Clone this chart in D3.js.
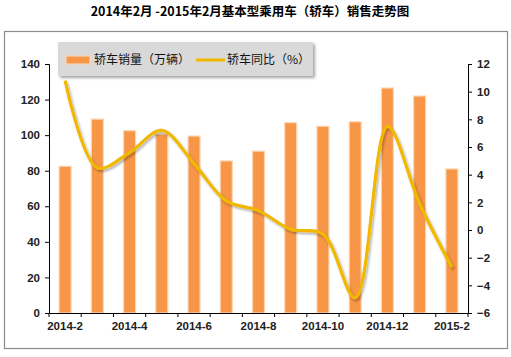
<!DOCTYPE html>
<html><head><meta charset="utf-8">
<script src="https://cdn.jsdelivr.net/npm/d3@7"></script>
<style>body{margin:0;background:#fff}</style>
</head><body>
<svg id="c" width="511" height="357"></svg>
<script>
const categories = ["2014-2","2014-3","2014-4","2014-5","2014-6","2014-7","2014-8","2014-9","2014-10","2014-11","2014-12","2015-1","2015-2"];
const tickLabels = ["2014-2","2014-4","2014-6","2014-8","2014-10","2014-12","2015-2"];
const sales = [82.5, 109, 102.5, 100.5, 99.5, 85.5, 91, 107, 105, 107.5, 126.5, 122, 81];
const yoy = [10.8, 4.5, 5.6, 7.2, 4.8, 2.1, 1.4, 0.05, -0.3, -4.9, 7.5, 1.9, -2.7];
const leftTicks = [0,20,40,60,80,100,120,140];
const rightTicks = [-6,-4,-2,0,2,4,6,8,10,12];
const title = "2014年2月 -2015年2月基本型乘用车（轿车）销售走势图";
const legendLabels = ["轿车销量（万辆）","轿车同比（%）"];

const svg = d3.select("#c");
const font = "'Liberation Sans', Arial, 'Noto Sans CJK SC', sans-serif";
const defs = svg.append("defs");
const f1 = defs.append("filter").attr("id","sh").attr("x","-10%").attr("y","-10%").attr("width","130%").attr("height","140%");
f1.append("feDropShadow").attr("dx",2).attr("dy",2).attr("stdDeviation",1.5).attr("flood-color","#000").attr("flood-opacity",0.35);
const f2 = defs.append("filter").attr("id","lsh").attr("x","-10%").attr("y","-10%").attr("width","120%").attr("height","130%");
f2.append("feDropShadow").attr("dx",1.5).attr("dy",2).attr("stdDeviation",1.2).attr("flood-color","#000").attr("flood-opacity",0.3);

svg.append("text").attr("x",250).attr("y",16).attr("text-anchor","middle")
  .attr("font-family","'Noto Sans CJK SC', sans-serif").attr("font-weight","bold").attr("font-size",12.5)
  .attr("fill","#000").text(title);

svg.append("rect").attr("x",4.5).attr("y",31.5).attr("width",503).attr("height",317)
  .attr("fill","#fff").attr("stroke","#8c8c8c").attr("stroke-width",1.2);

const L = 49, R = 468, T = 64, B = 313;
const x = d3.scaleBand().domain(categories).range([L,R]);
const y = d3.scaleLinear().domain([0,140]).range([B,T]);
const y2 = d3.scaleLinear().domain([-6,12]).range([B,T]);

// bars
svg.append("g").selectAll("rect").data(sales).join("rect")
  .attr("x",(d,i)=>x(categories[i])+x.bandwidth()/2-6)
  .attr("width",12)
  .attr("y",d=>y(d)).attr("height",d=>B-y(d))
  .attr("fill","#F79646").attr("stroke","#FCD5B4").attr("stroke-width",1.2);

// axes
const ax = svg.append("g").attr("transform",`translate(${L},0)`)
  .call(d3.axisLeft(y).tickValues(leftTicks).tickSize(4).tickPadding(5));
const ax2 = svg.append("g").attr("transform",`translate(${R},0)`)
  .call(d3.axisRight(y2).tickValues(rightTicks).tickSize(4).tickPadding(5));
const xAxis = svg.append("g").attr("transform",`translate(0,${B})`)
  .call(d3.axisBottom(x).tickValues(tickLabels).tickSize(0).tickPadding(9));
// tick marks between categories
svg.append("g").selectAll("line").data(d3.range(categories.length+1)).join("line")
  .attr("x1",i=>L+i*x.step()).attr("x2",i=>L+i*x.step())
  .attr("y1",B).attr("y2",B+4).attr("stroke","#000");
[ax,ax2,xAxis].forEach(g=>{
  g.selectAll("path.domain").attr("stroke","#000");
  g.selectAll("line").attr("stroke","#000");
  g.selectAll("text").attr("font-family",font).attr("font-size",11.5).attr("font-weight","bold").attr("fill","#222");
});

// line
const line = d3.line().x((d,i)=>x(categories[i])+x.bandwidth()/2).y(d=>y2(d)).curve(d3.curveCatmullRom.alpha(0.5));
svg.append("path").datum(yoy).attr("d",line).attr("fill","none")
  .attr("stroke","#F2B800").attr("stroke-width",3.2).attr("filter","url(#lsh)");

// legend
const lg = svg.append("g");
lg.append("rect").attr("x",58).attr("y",42).attr("width",255).attr("height",34)
  .attr("fill","#D9D9D9").attr("filter","url(#sh)");
lg.append("rect").attr("x",66).attr("y",56).attr("width",24).attr("height",8)
  .attr("fill","#F79646").attr("stroke","#FCD5B4").attr("stroke-width",1.2);
lg.append("text").attr("x",94).attr("y",64).attr("font-family","'Noto Sans CJK SC', sans-serif")
  .attr("font-size",12).attr("fill","#111").text(legendLabels[0]);
lg.append("line").attr("x1",196).attr("x2",225).attr("y1",60).attr("y2",60)
  .attr("stroke","#F2B800").attr("stroke-width",3);
lg.append("text").attr("x",227).attr("y",64).attr("font-family","'Noto Sans CJK SC', sans-serif")
  .attr("font-size",12).attr("fill","#111").text(legendLabels[1]);
</script>
</body></html>
